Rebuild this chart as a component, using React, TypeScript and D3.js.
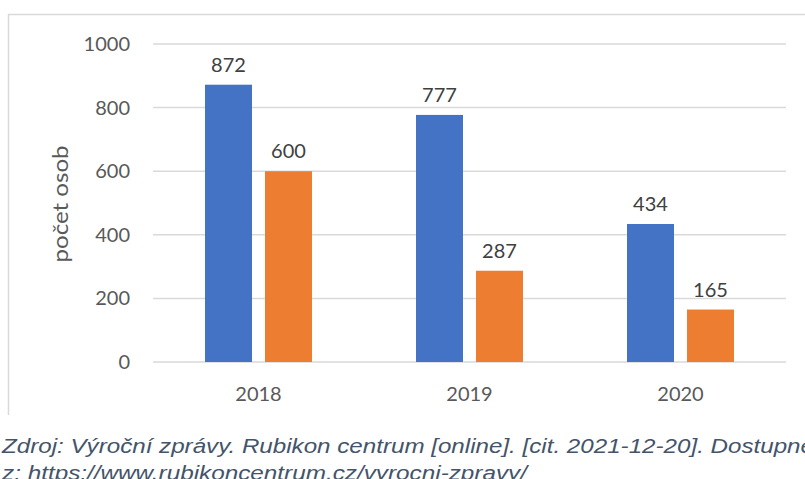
import React from "react";
import * as d3 from "d3";

const categories = ["2018", "2019", "2020"];
const seriesA = [872, 777, 434];
const seriesB = [600, 287, 165];
const yTicks = [0, 200, 400, 600, 800, 1000];
const yTitle = "počet osob";
const source1 = "Zdroj: Výroční zprávy. Rubikon centrum [online]. [cit. 2021-12-20]. Dostupné";
const source2 = "z: https://www.rubikoncentrum.cz/vyrocni-zpravy/";

const W = 805;
const H = 479;
const plot = { left: 153, right: 786, top: 44, bottom: 362 };
const font = "Lato, 'Open Sans', sans-serif";
const textColor = "#595959";

export default function App() {
  const x = d3.scaleBand<string>().domain(categories).range([plot.left, plot.right]);
  const y = d3.scaleLinear().domain([0, 1000]).range([plot.bottom, plot.top]);
  const barW = 47;
  const gap = 13;
  const series = [
    { values: seriesA, color: "#4472C4", offset: -(gap / 2 + barW) },
    { values: seriesB, color: "#ED7D31", offset: gap / 2 },
  ];
  return (
    <svg
      width={W}
      height={H}
      style={{ position: "absolute", left: 0, top: 0, background: "#fff" }}
    >
      <line x1={8.5} y1={14} x2={8.5} y2={415} stroke="#d9d9d9" strokeWidth={1.5} />
      <line x1={8} y1={14.5} x2={W} y2={14.5} stroke="#d9d9d9" strokeWidth={1.5} />
      {yTicks.map((t) => (
        <g key={t}>
          <line x1={plot.left} x2={plot.right} y1={y(t)} y2={y(t)} stroke="#d9d9d9" strokeWidth={1.5} />
          <text x={130} y={y(t)} dy="0.35em" textAnchor="end" fontFamily={font} fontSize={20} fill={textColor}>
            {t}
          </text>
        </g>
      ))}
      {series.map((s, si) =>
        categories.map((c, i) => {
          const cx = (x(c) as number) + x.bandwidth() / 2;
          const bx = cx + s.offset;
          return (
            <g key={`${si}-${c}`}>
              <rect x={bx} y={y(s.values[i])} width={barW} height={y(0) - y(s.values[i])} fill={s.color} />
              <text
                x={bx + barW / 2}
                y={y(s.values[i]) - 13}
                textAnchor="middle"
                fontFamily={font}
                fontSize={20}
                fill="#404040"
              >
                {s.values[i]}
              </text>
            </g>
          );
        })
      )}
      {categories.map((c) => (
        <text
          key={c}
          x={(x(c) as number) + x.bandwidth() / 2}
          y={401}
          textAnchor="middle"
          fontFamily={font}
          fontSize={20}
          fill={textColor}
        >
          {c}
        </text>
      ))}
      <text
        transform="translate(68,204) rotate(-90)"
        textAnchor="middle"
        fontFamily={font}
        fontSize={22}
        fill={textColor}
        textLength={117}
        lengthAdjust="spacingAndGlyphs"
      >
        {yTitle}
      </text>
      <text
        x={2}
        y={453}
        fontFamily="'Liberation Sans', Arial, sans-serif"
        fontStyle="italic"
        fontSize={20}
        fill="#44546A"
        textLength={812}
        lengthAdjust="spacingAndGlyphs"
      >
        {source1}
      </text>
      <text
        x={2}
        y={480}
        fontFamily="'Liberation Sans', Arial, sans-serif"
        fontStyle="italic"
        fontSize={20}
        fill="#44546A"
        textLength={525}
        lengthAdjust="spacingAndGlyphs"
      >
        {source2}
      </text>
    </svg>
  );
}
